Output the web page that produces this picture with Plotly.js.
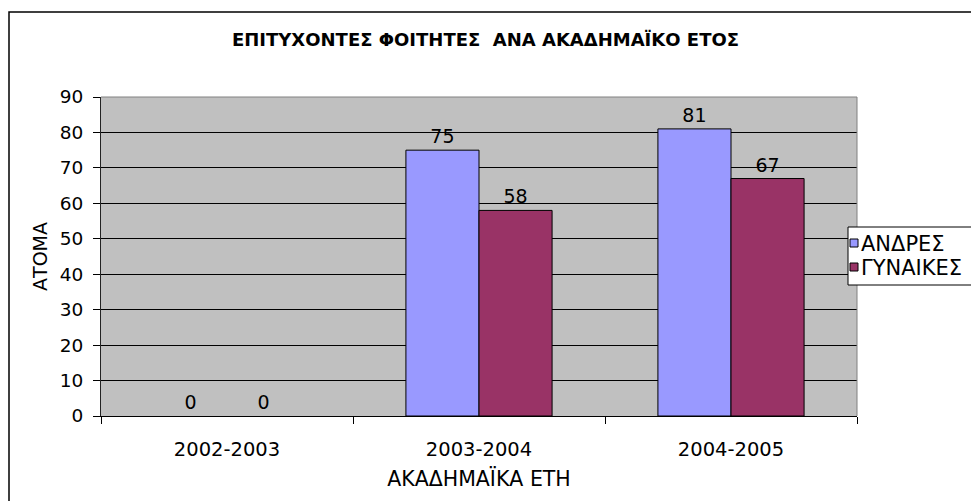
<!DOCTYPE html>
<html>
<head>
<meta charset="utf-8">
<script src="https://cdn.plot.ly/plotly-3.0.1.min.js"></script>
<style>
html,body{margin:0;padding:0;background:#fff;}
#chart{width:971px;height:501px;}
</style>
</head>
<body>
<div id="chart"></div>
<script>
// ---- data ----
var categories = ['2002-2003', '2003-2004', '2004-2005'];
var seriesNames = ['ΑΝΔΡΕΣ', 'ΓΥΝΑΙΚΕΣ'];
var men = [0, 75, 81];
var women = [0, 58, 67];
var chartTitle = 'ΕΠΙΤΥΧΟΝΤΕΣ ΦΟΙΤΗΤΕΣ \u00A0ΑΝΑ ΑΚΑΔΗΜΑΪΚΟ ΕΤΟΣ';
var xTitle = 'ΑΚΑΔΗΜΑΪΚΑ ΕΤΗ';
var yTitle = 'ΑΤΟΜΑ';

// ---- layout geometry ----
var W = 971, H = 501;
var L = 101, R = 857, T = 97, B = 416;
function px(x){ return (x - L) / (R - L); }
function py(y){ return (B - y) / (B - T); }

var FONT = 'DejaVu Sans, Verdana, sans-serif';
var colors = ['#9999FF', '#993366'];

var traces = [men, women].map(function(vals, i){
  return {
    type: 'bar',
    name: seriesNames[i],
    x: categories,
    y: vals,
    text: vals.map(String),
    textposition: 'outside',
    textfont: {family: FONT, size: 19, color: '#000'},
    cliponaxis: false,
    marker: {color: colors[i], line: {color: '#000', width: vals.map(function(v){ return v === 0 ? 0 : 1; })}},
    showlegend: false,
    hoverinfo: 'x+y+name'
  };
});

var shapes = [
  // outer chart border (right/bottom fall outside the picture)
  {type:'rect', xref:'paper', yref:'paper', x0:px(9), x1:px(1000), y0:py(12), y1:py(530),
   line:{color:'#000', width:1.5}, fillcolor:'rgba(0,0,0,0)', layer:'below'},
  // plot area top and right edges (gray)
  {type:'line', xref:'paper', yref:'paper', x0:0, x1:1, y0:1, y1:1, line:{color:'#808080', width:1}, layer:'above'},
  {type:'line', xref:'paper', yref:'paper', x0:1, x1:1, y0:0, y1:1, line:{color:'#808080', width:1}, layer:'above'},
  // legend box
  {type:'rect', xref:'paper', yref:'paper', x0:px(848), x1:px(1000), y0:py(285), y1:py(227),
   line:{color:'#000', width:1}, fillcolor:'#fff', layer:'above'},
  {type:'rect', xref:'paper', yref:'paper', x0:px(850), x1:px(858), y0:py(247), y1:py(239),
   line:{color:'#000', width:1}, fillcolor:colors[0], layer:'above'},
  {type:'rect', xref:'paper', yref:'paper', x0:px(850), x1:px(858), y0:py(271), y1:py(263),
   line:{color:'#000', width:1}, fillcolor:colors[1], layer:'above'}
];

var annotations = seriesNames.map(function(n, i){
  return {xref:'paper', yref:'paper', x:px(859), y:py(i === 0 ? 244 : 268),
    xanchor:'left', yanchor:'middle', text:n, showarrow:false,
    font:{family:FONT, size:21, color:'#000'}};
});

var layout = {
  width: W, height: H,
  margin: {l: L, r: W - R, t: T, b: H - B, pad: 0},
  paper_bgcolor: '#fff',
  plot_bgcolor: '#C0C0C0',
  font: {family: FONT, size: 19, color: '#000'},
  title: {
    text: chartTitle,
    font: {family: FONT, size: 18, color: '#000', weight: 'bold'},
    xref: 'container', yref: 'container', x: 0.5, xanchor: 'center',
    y: 1 - 40 / H, yanchor: 'middle'
  },
  barmode: 'group',
  bargap: 0.42,
  bargroupgap: 0,
  xaxis: {
    type: 'category',
    showline: true, linecolor: '#000', linewidth: 1,
    ticks: 'outside', tickson: 'boundaries', ticklen: 7, tickcolor: '#000',
    tickfont: {family: FONT, size: 19.5, color: '#000'},
    ticklabelstandoff: 16,
    showgrid: false, zeroline: false,
    title: {text: xTitle, font: {family: FONT, size: 20.5, color: '#000'}, standoff: 11}
  },
  yaxis: {
    range: [0, 90], dtick: 10, tick0: 0,
    showline: true, linecolor: '#222', linewidth: 1,
    ticks: 'outside', ticklen: 7, tickcolor: '#000',
    tickfont: {family: FONT, size: 18.5, color: '#000'},
    ticklabelstandoff: 6,
    showgrid: true, gridcolor: '#000', gridwidth: 1,
    zeroline: false,
    title: {text: yTitle, font: {family: FONT, size: 19, color: '#000'}, standoff: 7}
  },
  shapes: shapes,
  annotations: annotations,
  showlegend: false
};

Plotly.newPlot('chart', traces, layout, {displayModeBar: false, staticPlot: true});
</script>
</body>
</html>
